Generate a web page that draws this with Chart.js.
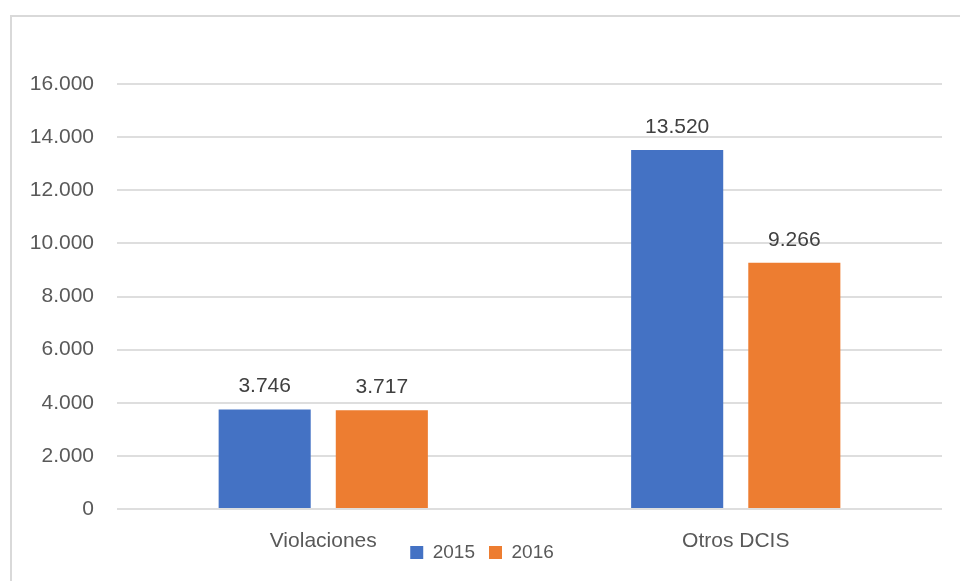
<!DOCTYPE html>
<html>
<head>
<meta charset="utf-8">
<script src="https://cdn.jsdelivr.net/npm/chart.js@4/dist/chart.umd.min.js"></script>
<style>
  html, body { margin: 0; padding: 0; background: #fff; overflow: hidden; }
  #wrap { position: relative; width: 960px; height: 581px; }
  #frame { position: absolute; left: 10px; top: 15px; width: 980px; height: 600px;
           border-left: 2px solid #d9d9d9; border-top: 2px solid #d9d9d9; }
  canvas { position: absolute; left: 0; top: 0; }
</style>
</head>
<body>
<div id="wrap">
  <div id="frame"></div>
  <canvas id="myChart" width="960" height="581"></canvas>
</div>
<script>
// chart data
const categories = ['Violaciones', 'Otros DCIS'];
const years = ['2015', '2016'];
const values2015 = [3746, 13520];
const values2016 = [3717, 9266];
const yTicks = [0, 2000, 4000, 6000, 8000, 10000, 12000, 14000, 16000];

const FONT = "'Liberation Sans', Arial, sans-serif";

// 16000 -> "16.000"
const fmt = (v) => v.toString().replace(/\B(?=(\d{3})+(?!\d))/g, '.');

// value labels above each bar
const barLabels = {
  id: 'barLabels',
  afterDatasetsDraw(chart) {
    const ctx = chart.ctx;
    ctx.save();
    ctx.font = '21px ' + FONT;
    ctx.fillStyle = '#404040';
    ctx.textAlign = 'center';
    ctx.textBaseline = 'alphabetic';
    chart.data.datasets.forEach((ds, i) => {
      chart.getDatasetMeta(i).data.forEach((bar, j) => {
        ctx.fillText(fmt(ds.data[j]), bar.x, bar.y - 17);
      });
    });
    ctx.restore();
  }
};

// legend overlaps the category label row in the original, so move it by hand
const legendShift = {
  id: 'legendShift',
  afterLayout(chart) {
    const lg = chart.legend;
    const dx = 11;
    const h = lg.bottom - lg.top;
    lg.left += dx; lg.right += dx;
    lg.top = 529; lg.bottom = 529 + h;
  }
};

new Chart('myChart', {
  type: 'bar',
  data: {
    labels: categories,
    datasets: [
      { label: years[0], data: values2015, backgroundColor: '#4472C4' },
      { label: years[1], data: values2016, backgroundColor: '#ED7D31' }
    ]
  },
  options: {
    responsive: false,
    animation: false,
    devicePixelRatio: 1,
    categoryPercentage: 0.568,
    barPercentage: 0.786,
    layout: { padding: { left: 0, right: 18, top: 84, bottom: -21 } },
    plugins: {
      tooltip: { enabled: false },
      legend: {
        position: 'bottom',
        labels: {
          boxWidth: 13, boxHeight: 13, padding: 14,
          color: '#595959',
          font: { family: FONT, size: 19 }
        }
      }
    },
    scales: {
      x: {
        grid: { display: false, drawTicks: false },
        border: { display: false },
        ticks: { color: '#595959', padding: 20, font: { family: FONT, size: 21 } },
        afterFit: (s) => { s.height = 50; }
      },
      y: {
        min: 0, max: 16000,
        afterBuildTicks: (s) => { s.ticks = yTicks.map(v => ({ value: v })); },
        grid: { color: '#dedede', lineWidth: 2, drawTicks: false },
        border: { display: false },
        ticks: { color: '#595959', padding: 23, font: { family: FONT, size: 21 }, callback: (v) => fmt(v) },
        afterFit: (s) => { s.width = 117; }
      }
    }
  },
  plugins: [barLabels, legendShift]
});
</script>
</body>
</html>
